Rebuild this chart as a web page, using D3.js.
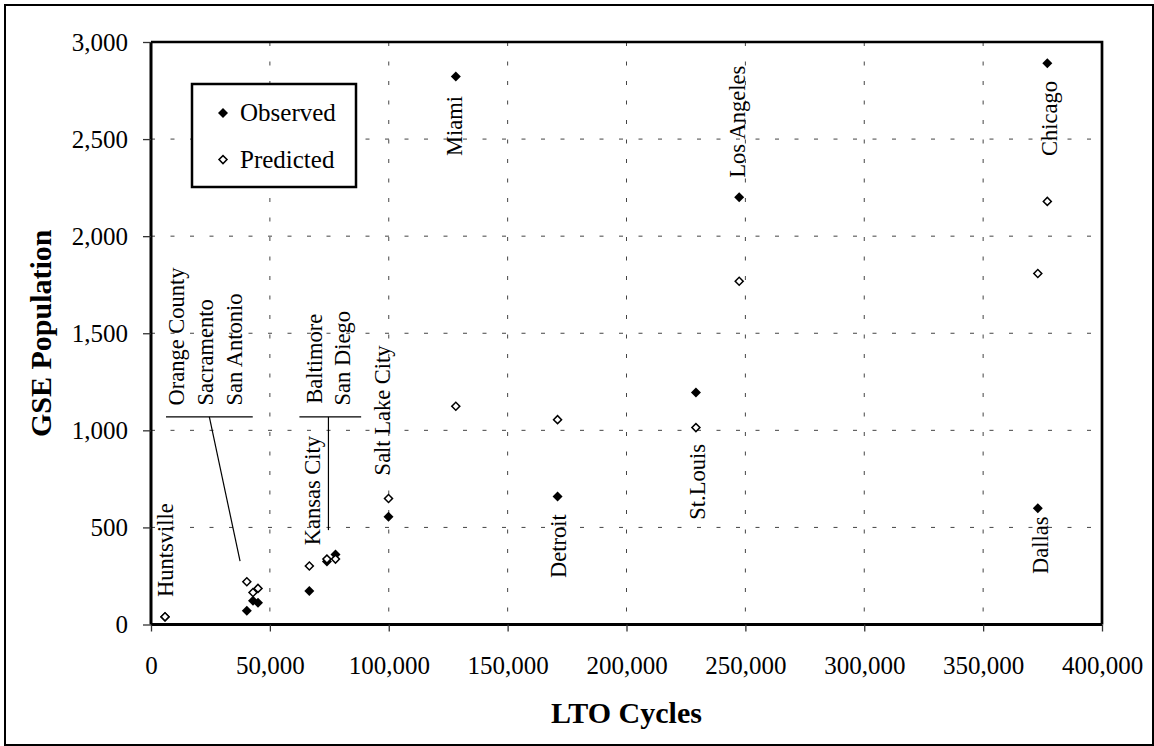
<!DOCTYPE html>
<html>
<head>
<meta charset="utf-8">
<script src="https://cdn.jsdelivr.net/npm/d3@7"></script>
<style>
    body { margin: 0; background: #fff; }
    text { font-family: "Liberation Serif", "Times New Roman", serif; fill: #000; }
</style>
</head>
<body>
<div id="chart"></div>
<script>
// Données
const cities = ["Huntsville", "Orange County", "Sacramento", "San Antonio", "Kansas City", "Baltimore",
    "San Diego", "Salt Lake City", "Miami", "Detroit", "St.Louis", "Los Angeles", "Dallas", "Chicago"];
const ltoCycles = [5900, 40300, 42900, 45000, 66600, 74000, 77600, 99900, 128200, 171000, 229200, 247400, 373000, 377000];
const observed = [38, 71, 122, 112, 172, 325, 360, 555, 2822, 659, 1195, 2200, 599, 2890];
const predicted = [40, 220, 165, 186, 301, 337, 337, 649, 1124, 1055, 1014, 1768, 1808, 2179];
const xTicks = [0, 50000, 100000, 150000, 200000, 250000, 300000, 350000, 400000];
const yTicks = [0, 500, 1000, 1500, 2000, 2500, 3000];
const seriesNames = ["Observed", "Predicted"];

// Point de départ de chaque étiquette (LTO, GSE)
const labelAnchors = [[9260, 141], [13890, 1128], [26100, 1128], [38300, 1128], [71130, 408], [71850, 1137],
    [83760, 1128], [100600, 768], [130800, 2413], [174700, 239], [233000, 540], [250000, 2301], [377400, 260], [381200, 2413]];
// Traits de rappel pour les groupes serrés
const leaderLines = [
    [[6300, 1069], [42800, 1069]],
    [[24540, 1069], [37460, 326]],
    [[62420, 1069], [88390, 1069]],
    [[74630, 1069], [74630, 486]]
];

const width = 1154;
const height = 746;
const plot = {left: 151, right: 1102, top: 42, bottom: 624.5};

const svg = d3.select("#chart").append("svg")
    .attr("width", width)
    .attr("height", height);

// cadre extérieur
svg.append("rect")
    .attr("x", 5).attr("y", 5)
    .attr("width", 1148).attr("height", 740)
    .attr("fill", "none").attr("stroke", "#000").attr("stroke-width", 2);

const x = d3.scaleLinear().domain([0, 400000]).range([plot.left, plot.right]);
const y = d3.scaleLinear().domain([0, 3000]).range([plot.bottom, plot.top]);

// grille pointillée
svg.append("g").selectAll("line")
    .data(xTicks.slice(1, -1))
    .join("line")
    .attr("x1", d => x(d)).attr("x2", d => x(d))
    .attr("y1", plot.top).attr("y2", plot.bottom)
    .attr("stroke", "#444").attr("stroke-dasharray", "4,15.5");

svg.append("g").selectAll("line")
    .data(yTicks.slice(1, -1))
    .join("line")
    .attr("y1", d => y(d)).attr("y2", d => y(d))
    .attr("x1", plot.left).attr("x2", plot.right)
    .attr("stroke", "#444").attr("stroke-dasharray", "4,15.5");

// bordure haut / droite de la zone de tracé
svg.append("path")
    .attr("d", `M${plot.left},${plot.top}H${plot.right}V${plot.bottom}`)
    .attr("fill", "none").attr("stroke", "#000").attr("stroke-width", 2.7);

const xAxis = d3.axisBottom(x).tickValues(xTicks).tickSize(7).tickPadding(25)
    .tickFormat(d3.format(","));
const yAxis = d3.axisLeft(y).tickValues(yTicks).tickSize(8).tickPadding(15)
    .tickFormat(d3.format(","));

const gx = svg.append("g")
    .attr("transform", `translate(0,${plot.bottom})`)
    .call(xAxis);
const gy = svg.append("g")
    .attr("transform", `translate(${plot.left},0)`)
    .call(yAxis);

[gx, gy].forEach(g => {
    g.select(".domain").attr("stroke", "#000").attr("stroke-width", 3);
    g.selectAll(".tick line").attr("stroke", "#333").attr("stroke-width", 1.3);
    g.selectAll(".tick text")
        .attr("font-family", "Liberation Serif, serif")
        .attr("font-size", 25)
        .attr("fill", "#000");
});
gy.select(".domain").attr("d", `M0,${plot.bottom}V${plot.top}`);
gx.select(".domain").attr("d", `M${plot.left},0H${plot.right}`);

// titres des axes
svg.append("text")
    .attr("x", (plot.left + plot.right) / 2)
    .attr("y", 723)
    .attr("text-anchor", "middle")
    .attr("font-size", 30)
    .attr("font-weight", "bold")
    .text("LTO Cycles");

svg.append("text")
    .attr("transform", `translate(51,${(plot.top + plot.bottom) / 2}) rotate(-90)`)
    .attr("text-anchor", "middle")
    .attr("font-size", 30)
    .attr("font-weight", "bold")
    .text("GSE Population");

// traits de rappel
svg.append("g").selectAll("path")
    .data(leaderLines)
    .join("path")
    .attr("d", d3.line().x(d => x(d[0])).y(d => y(d[1])))
    .attr("fill", "none").attr("stroke", "#000").attr("stroke-width", 1.2);

// étiquettes des villes
svg.append("g").selectAll("text")
    .data(cities)
    .join("text")
    .attr("transform", (d, i) => `translate(${x(labelAnchors[i][0])},${y(labelAnchors[i][1])}) rotate(-90)`)
    .attr("font-size", 22.5)
    .text(d => d);

// points
const diamond = size => d3.symbol().type(d3.symbolSquare).size(size)();

svg.append("g").selectAll("path")
    .data(observed)
    .join("path")
    .attr("d", diamond(50))
    .attr("transform", (d, i) => `translate(${x(ltoCycles[i])},${y(d)}) rotate(45)`)
    .attr("fill", "#000");

svg.append("g").selectAll("path")
    .data(predicted)
    .join("path")
    .attr("d", diamond(32))
    .attr("transform", (d, i) => `translate(${x(ltoCycles[i])},${y(d)}) rotate(45)`)
    .attr("fill", "#fff").attr("stroke", "#000").attr("stroke-width", 1.5);

// légende
const legend = svg.append("g");
legend.append("rect")
    .attr("x", 192).attr("y", 84)
    .attr("width", 164).attr("height", 103)
    .attr("fill", "#fff").attr("stroke", "#000").attr("stroke-width", 2.5);

const items = legend.selectAll("g")
    .data(seriesNames)
    .join("g")
    .attr("transform", (d, i) => `translate(223,${113 + i * 46.6})`);

items.append("path")
    .attr("d", (d, i) => diamond(i === 0 ? 50 : 32))
    .attr("transform", "rotate(45)")
    .attr("fill", (d, i) => i === 0 ? "#000" : "#fff")
    .attr("stroke", (d, i) => i === 0 ? "none" : "#000")
    .attr("stroke-width", 1.5);

items.append("text")
    .attr("x", 17)
    .attr("y", 8)
    .attr("font-size", 25)
    .text(d => d);
</script>
</body>
</html>
